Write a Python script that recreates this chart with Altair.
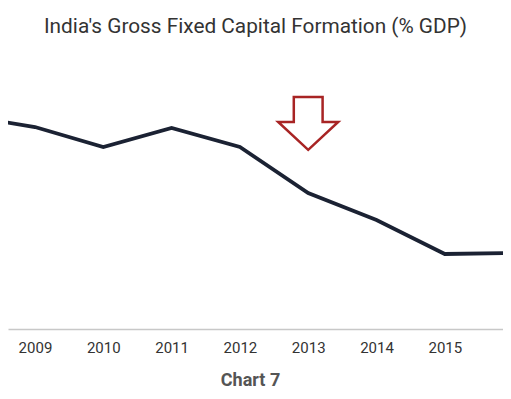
import altair as alt
import pandas as pd

years = [2008, 2009, 2010, 2011, 2012, 2013, 2014, 2015, 2016]
gfcf = [35.65, 35.1, 34.1, 35.05, 34.1, 31.8, 30.45, 28.75, 28.8]
tick_years = [2009, 2010, 2011, 2012, 2013, 2014, 2015]

arrow_year = [2013]
arrow_value = [35.28]

title_text = "India's Gross Fixed Capital Formation (% GDP)"
x_title = "Chart 7"

df = pd.DataFrame({"year": years, "value": gfcf})
arrow_df = pd.DataFrame({"year": arrow_year, "value": arrow_value})

xscale = alt.Scale(domain=[2008.605, 2015.852], nice=False, zero=False)
yscale = alt.Scale(domain=[25, 38], nice=False, zero=False)

line = alt.Chart(df).mark_line(
    color="#1b2233", strokeWidth=3.8, clip=True, strokeJoin="miter"
).encode(
    x=alt.X("year:Q", scale=xscale,
            axis=alt.Axis(values=tick_years, format="d", title=x_title,
                          ticks=False, grid=False, domainColor="#c8c8c8",
                          domainWidth=1.5, labelFont="Roboto", labelFontSize=15,
                          labelColor="#333333", labelPadding=11,
                          titleFont="Roboto", titleFontSize=18,
                          titleFontWeight="bold", titleColor="#555555",
                          titlePadding=16, titleX=242)),
    y=alt.Y("value:Q", scale=yscale, axis=None),
)

arrow_path = "M -0.48 -0.88 L 0.48 -0.88 L 0.48 -0.05 L 1 -0.05 L 0 0.88 L -1 -0.05 L -0.48 -0.05 Z"
arrow = alt.Chart(arrow_df).mark_point(
    shape=arrow_path, size=3600, filled=False, stroke="#a82424",
    strokeWidth=2.5, opacity=1
).encode(
    x=alt.X("year:Q", scale=xscale),
    y=alt.Y("value:Q", scale=yscale),
)

chart = alt.layer(line, arrow).properties(
    width=495,
    height=260,
    title=alt.TitleParams(title_text, font="Roboto", fontSize=20.8,
                          fontWeight="normal", color="#333333", offset=31,
                          anchor="middle"),
    autosize=alt.AutoSizeParams(type="none"),
    padding={"left": 0, "top": 61, "right": 0, "bottom": 62},
).configure(background="white").configure_view(strokeWidth=0, stroke="transparent")

chart.save("out.html", embed_options={"renderer": "svg", "actions": False})
